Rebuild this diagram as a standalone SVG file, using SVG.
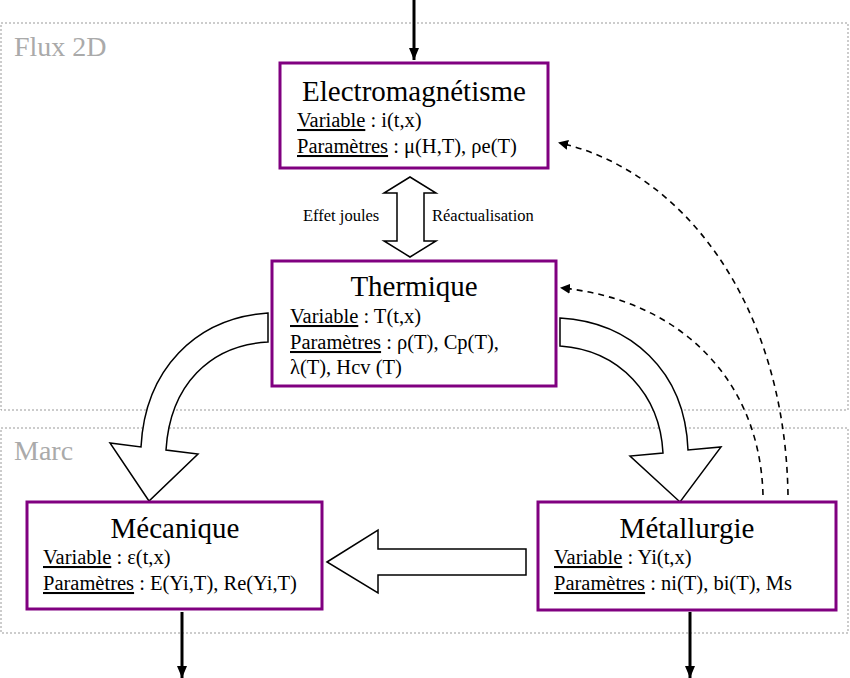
<svg xmlns="http://www.w3.org/2000/svg" width="850" height="678" viewBox="0 0 850 678">
<style>
.cont{fill:none;stroke:#999;stroke-width:1;stroke-dasharray:2,2}
.ct{font-family:"Liberation Serif",serif;font-size:28px;fill:#aaa}
.box{fill:#fff;stroke:#800080;stroke-width:3}
.t{font-family:"Liberation Serif",serif;font-size:29px;fill:#000;text-anchor:middle}
.s{font-family:"Liberation Serif",serif;font-size:20.5px;fill:#000}
.u{text-decoration:underline}
.sm{font-family:"Liberation Serif",serif;font-size:16.5px;fill:#000}
.blk{fill:#fff;stroke:#000;stroke-width:1.5;stroke-linejoin:miter}
.dash{fill:none;stroke:#000;stroke-width:1.6;stroke-dasharray:6,5}
.solid{fill:none;stroke:#000;stroke-width:3}
</style>
<defs>
<marker id="ah" markerWidth="10" markerHeight="10" refX="8" refY="5" orient="auto" markerUnits="userSpaceOnUse"><path d="M0,0 L10,5 L0,10 z" fill="#000"/></marker>
<marker id="ahb" markerWidth="14" markerHeight="14" refX="12" refY="7" orient="auto" markerUnits="userSpaceOnUse"><path d="M0,2 L12,7 L0,12 z" fill="#000"/></marker>
</defs>
<rect width="850" height="678" fill="#fff"/>
<g id="containers">
<rect class="cont" x="1" y="23" width="847" height="387"/>
<text class="ct" x="14" y="56">Flux 2D</text>
<rect class="cont" x="1" y="428" width="847" height="205"/>
<text class="ct" x="14" y="460">Marc</text>
</g>
<g id="connectors">
<line class="solid" x1="414" y1="0" x2="414" y2="60" marker-end="url(#ahb)"/>
<line class="solid" x1="182" y1="612" x2="182" y2="678" marker-end="url(#ahb)"/>
<line class="solid" x1="690" y1="612" x2="690" y2="678" marker-end="url(#ahb)"/>
<path class="blk" d="M410,177 L436,193 L424,193 L424,241 L436,241 L410,257 L384,241 L397,241 L397,193 L384,193 Z"/>
<path class="blk" d="M268,313 L268,342 C210,345 170,385 166,450 L198,454 L149,501 L110,443 L141,447 C145,370 195,318 268,313 Z"/>
<path class="blk" d="M560,318 L560,346 C620,350 660,395 663,453 L630,456 L680,502 L721,447 L688,450 C685,370 630,322 560,318 Z"/>
<path class="blk" d="M327,562 L378,530 L378,549 L526,549 L526,575 L378,575 L378,593 Z"/>
<path class="dash" d="M763,495 C760,380 680,300 562,288" marker-end="url(#ah)"/>
<path class="dash" d="M788,495 C785,300 680,170 560,143" marker-end="url(#ah)"/>
<text class="sm" x="303" y="221">Effet joules</text>
<text class="sm" x="432" y="221">Réactualisation</text>
</g>
<g id="electro">
<rect class="box" x="280" y="63" width="268" height="105"/>
<text class="t" x="414" y="101">Electromagnétisme</text>
<text class="s" x="297" y="127"><tspan class="u">Variable</tspan> : i(t,x)</text>
<text class="s" x="297" y="153"><tspan class="u">Paramètres</tspan> : μ(H,T), ρe(T)</text>
</g>
<g id="thermique">
<rect class="box" x="272" y="261" width="284" height="125"/>
<text class="t" x="414" y="296">Thermique</text>
<text class="s" x="290" y="323"><tspan class="u">Variable</tspan> : T(t,x)</text>
<text class="s" x="290" y="349"><tspan class="u">Paramètres</tspan> : ρ(T), Cp(T),</text>
<text class="s" x="290" y="374">λ(T), Hcv (T)</text>
</g>
<g id="mecanique">
<rect class="box" x="27" y="502" width="295" height="107"/>
<text class="t" x="175" y="538">Mécanique</text>
<text class="s" x="43" y="564"><tspan class="u">Variable</tspan> : ε(t,x)</text>
<text class="s" x="43" y="590"><tspan class="u">Paramètres</tspan> : E(Yi,T), Re(Yi,T)</text>
</g>
<g id="metallurgie">
<rect class="box" x="538" y="502" width="298" height="108"/>
<text class="t" x="687" y="538">Métallurgie</text>
<text class="s" x="554" y="564"><tspan class="u">Variable</tspan> : Yi(t,x)</text>
<text class="s" x="554" y="590"><tspan class="u">Paramètres</tspan> : ni(T), bi(T), Ms</text>
</g>
</svg>
